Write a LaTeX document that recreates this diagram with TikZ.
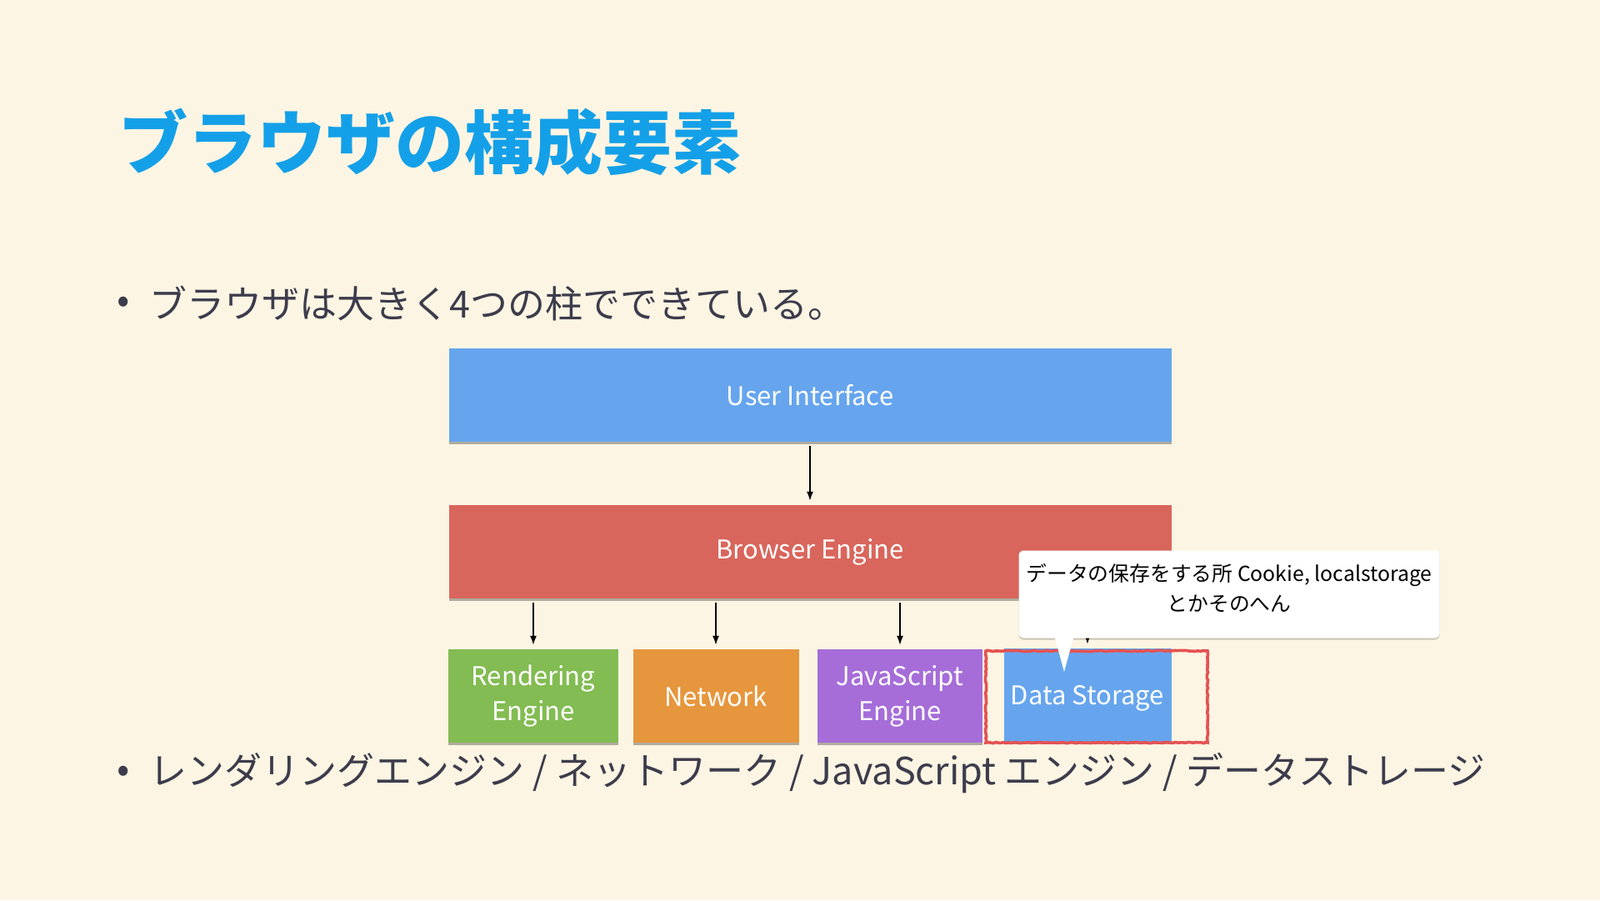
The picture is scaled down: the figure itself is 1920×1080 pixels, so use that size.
\documentclass[tikz,border=0pt]{standalone}
\usepackage{fontspec}
\setmainfont{Noto Sans CJK JP}
\usetikzlibrary{arrows.meta,positioning,shadows,decorations.pathmorphing}

\definecolor{slidebg}{RGB}{253,245,227}
\definecolor{titleblue}{RGB}{20,160,232}
\definecolor{inktext}{RGB}{60,60,76}
\definecolor{uiblue}{RGB}{102,165,238}
\definecolor{enginered}{RGB}{217,102,92}
\definecolor{rendergreen}{RGB}{130,188,82}
\definecolor{netorange}{RGB}{230,150,60}
\definecolor{jspurple}{RGB}{166,109,217}
\definecolor{markred}{RGB}{228,82,82}

\tikzset{
  block/.style={fill=#1,text=white,minimum height=112pt,inner sep=0pt,align=center,
    font=\fontsize{31}{42}\selectfont,
    drop shadow={shadow xshift=0pt,shadow yshift=-2.5pt,opacity=0.3,fill=black}},
  flow/.style={-{Latex[length=11pt,width=8pt]},line width=1.6pt,black},
  bullettext/.style={anchor=west,text=inktext,inner sep=0pt,font=\fontsize{45}{54}\selectfont},
  highlight/.style={draw=markred,line width=3.6pt,inner sep=0pt,
    decorate,decoration={random steps,segment length=3pt,amplitude=0.7pt}},
  notebox/.style={fill=white,rounded corners=6pt,inner sep=0pt,align=center,
    minimum width=505pt,minimum height=105pt,font=\fontsize{24.8}{36}\selectfont,
    text depth=17pt,
    drop shadow={shadow xshift=0pt,shadow yshift=-2pt,opacity=0.2,fill=black}}
}

\begin{document}
\begin{tikzpicture}[x=1pt,y=-1pt]
  \fill[slidebg] (0,0) rectangle (1920,1080);
  \useasboundingbox (0,0) rectangle (1920,1080);

  \node[anchor=west,inner sep=0pt,text=titleblue,font=\fontsize{83}{90}\selectfont\bfseries]
    (title) at (142,171) {ブラウザの構成要素};
  \node[bullettext] (dot1) at (140,366) {•};
  \node[bullettext] (point1) at (179,364) {ブラウザは大きく4つの柱でできている。};

  \node[block=uiblue,minimum width=867pt] (ui) at (972,474) {User Interface};
  \node[block=enginered,minimum width=867pt] (engine) at (972,662) {Browser Engine};

  \node[block=rendergreen,minimum width=204pt] (render) at (640,835) {Rendering\\Engine};
  \node[block=netorange,minimum width=199pt] (network) at (859,835) {Network};
  \node[block=jspurple,minimum width=198pt] (jsengine) at (1080,835) {JavaScript\\Engine};
  \node[block=uiblue,minimum width=201pt,text depth=0pt] (storage) at (1305,834) {Data Storage};

  \draw[flow] (ui.south) ++(0,5) -- ([yshift=5pt]engine.north);
  \foreach \part in {render,network,jsengine,storage}
    \draw[flow] (\part.north |- engine.south) ++(0,5) -- ([yshift=5pt]\part.north);

  \node[highlight,minimum width=266pt,minimum height=110pt] (mark) at (1316,836) {};

  \node[notebox] (note) at (1475,713)
    {データの保存をする所 Cookie, localstorage\\とかそのへん};
  \coordinate (tip) at (1277,806);
  \fill[white] (tip) -- ++(-12,-44) -- ++(24,0) -- cycle;

  \node[bullettext] (dot2) at (140,929) {•};
  \node[bullettext] (point2) at (179,927)
    {レンダリングエンジン / ネットワーク / JavaScript エンジン / データストレージ};
\end{tikzpicture}
\end{document}
